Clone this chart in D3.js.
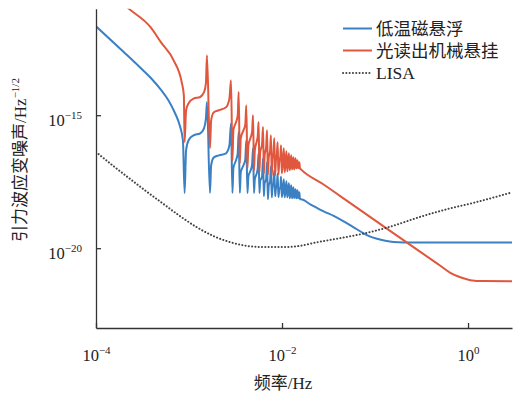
<!DOCTYPE html>
<html><head><meta charset="utf-8">
<script src="https://cdn.jsdelivr.net/npm/d3@7/dist/d3.min.js"></script>
<style>
html,body{margin:0;padding:0;background:#fff;}
svg{display:block;}
text{font-family:"Liberation Serif","Noto Sans CJK SC",serif;fill:#222;}
</style></head>
<body>
<svg id="chart" width="513" height="395"></svg>
<script>
// ---------- data ----------
const seriesNames = ["低温磁悬浮", "光读出机械悬挂", "LISA"];

const blueFreq = [1e-4,2e-4,3e-4,4e-4,5e-4,6e-4,7e-4,8e-4,8.6e-4,8.97e-4,9.3e-4,9.9e-4,1.12e-3,1.32e-3,1.45e-3,1.52e-3,1.56e-3,1.68e-3,1.73e-3,1.85e-3,2.1e-3,2.5e-3,2.72e-3,2.83e-3,2.93e-3,3.0e-3,3.2e-3,3.34e-3,3.42e-3,3.52e-3,3.6e-3,3.85e-3,4.03e-3,4.13e-3,4.25e-3,4.35e-3,4.6e-3,4.77e-3,4.88e-3,5.0e-3,5.1e-3,5.35e-3,5.48e-3,5.6e-3,5.72e-3,5.82e-3,6.1e-3,6.25e-3,6.38e-3,6.5e-3,6.75e-3,6.9e-3,7.05e-3,7.2e-3,7.45e-3,7.6e-3,7.76e-3,7.9e-3,8.1e-3,8.26e-3,8.43e-3,8.6e-3,8.8e-3,8.97e-3,9.15e-3,9.35e-3,9.6e-3,9.76e-3,9.95e-3,1.02e-2,1.046e-2,1.066e-2,1.09e-2,1.116e-2,1.138e-2,1.16e-2,1.186e-2,1.21e-2,1.23e-2,1.256e-2,1.28e-2,1.30e-2,1.326e-2,1.35e-2,1.37e-2,1.396e-2,1.42e-2,1.44e-2,1.466e-2,1.49e-2,1.51e-2,1.536e-2,1.56e-2,1.6e-2,2.01e-2,2.80e-2,3.59e-2,4.60e-2,5.89e-2,7.54e-2,8.89e-2,0.105,0.129,0.158,0.203,2.97];
const blueVal = [2.20e-12,2.32e-13,6.05e-14,2.24e-14,9.0e-15,3.63e-15,1.29e-15,3.83e-16,1.14e-16,1.19e-18,4.8e-17,1.14e-16,1.75e-16,2.09e-16,3.22e-16,7.6e-16,3.13e-15,1.19e-18,1.31e-17,2.6e-17,3.1e-17,3.7e-17,7.4e-17,4.83e-16,1.19e-18,1.01e-17,2.02e-17,3.7e-17,2.33e-16,1.19e-18,7.1e-18,1.31e-17,2.2e-17,1.14e-16,1.19e-18,5.0e-18,8.5e-18,1.43e-17,5.7e-17,1.19e-18,3.9e-18,6.5e-18,1.01e-17,3.7e-17,1.19e-18,3.27e-18,5.0e-18,2.4e-17,8.9e-19,2.75e-18,3.9e-18,1.69e-17,6.9e-19,2.32e-18,3.27e-18,1.2e-17,8.2e-19,1.95e-18,2.75e-18,8.5e-18,8.9e-19,1.79e-18,2.32e-18,6.5e-18,8.2e-19,1.64e-18,1.95e-18,5.0e-18,8.2e-19,1.50e-18,3.9e-18,8.2e-19,1.38e-18,3.27e-18,8.2e-19,1.26e-18,2.75e-18,7.5e-19,1.16e-18,2.32e-18,7.5e-19,1.06e-18,1.95e-18,7.5e-19,9.7e-19,1.64e-18,7.5e-19,8.9e-19,1.50e-18,7.5e-19,8.2e-19,1.26e-18,6.9e-19,6.9e-19,4.47e-19,2.44e-19,1.65e-19,1.03e-19,6.1e-20,3.63e-20,2.73e-20,2.25e-20,1.90e-20,1.71e-20,1.65e-20,1.64e-20];

const redFreq = [1e-4,2.24e-4,3.84e-4,5e-4,6.83e-4,8.41e-4,8.8e-4,8.97e-4,9.3e-4,9.9e-4,1.12e-3,1.32e-3,1.45e-3,1.52e-3,1.56e-3,1.68e-3,1.73e-3,1.85e-3,2.1e-3,2.5e-3,2.72e-3,2.83e-3,2.93e-3,3.0e-3,3.2e-3,3.34e-3,3.42e-3,3.52e-3,3.6e-3,3.85e-3,4.03e-3,4.13e-3,4.25e-3,4.35e-3,4.6e-3,4.77e-3,4.88e-3,5.0e-3,5.1e-3,5.35e-3,5.48e-3,5.6e-3,5.72e-3,5.82e-3,6.1e-3,6.25e-3,6.38e-3,6.5e-3,6.75e-3,6.9e-3,7.05e-3,7.2e-3,7.45e-3,7.6e-3,7.76e-3,7.9e-3,8.1e-3,8.26e-3,8.43e-3,8.6e-3,8.8e-3,8.97e-3,9.15e-3,9.35e-3,9.6e-3,9.76e-3,9.95e-3,1.02e-2,1.046e-2,1.066e-2,1.09e-2,1.116e-2,1.138e-2,1.16e-2,1.186e-2,1.21e-2,1.23e-2,1.256e-2,1.28e-2,1.30e-2,1.326e-2,1.35e-2,1.37e-2,1.396e-2,1.42e-2,1.44e-2,1.466e-2,1.49e-2,1.51e-2,1.536e-2,1.56e-2,1.6e-2,2.80e-2,5.42e-2,0.1237,0.307,0.504,0.646,0.826,1.06,1.47,2.97];
const redVal = [1.2e-10,1.02e-11,2.07e-12,5.5e-13,1.16e-13,1.54e-14,5.6e-15,9.8e-17,1.53e-15,2.8e-15,4.2e-15,4.83e-15,7.3e-15,1.58e-14,1.79e-13,5.7e-17,6.43e-16,1.29e-15,1.53e-15,1.98e-15,4.3e-15,2.05e-14,2.02e-17,2.70e-16,5.4e-16,9.9e-16,7.45e-15,1.56e-17,1.36e-16,2.70e-16,4.55e-16,2.36e-15,1.01e-17,7.4e-17,1.45e-16,2.44e-16,9.9e-16,8.5e-18,4.8e-17,1.04e-16,1.61e-16,5.55e-16,7.1e-18,4.0e-17,8.05e-17,3.6e-16,6.5e-18,3.1e-17,6.2e-17,2.70e-16,5.9e-18,2.6e-17,4.8e-17,1.75e-16,5.5e-18,2.2e-17,4.0e-17,1.36e-16,5.5e-18,2.02e-17,3.4e-17,9.6e-17,5.9e-18,1.85e-17,2.85e-17,7.4e-17,6.5e-18,1.69e-17,5.7e-17,7.1e-18,1.56e-17,4.4e-17,7.8e-18,1.43e-17,3.7e-17,8.5e-18,1.31e-17,3.1e-17,9.2e-18,1.31e-17,2.6e-17,9.2e-18,1.2e-17,2.4e-17,1.01e-17,1.2e-17,2.02e-17,1.01e-17,1.1e-17,1.69e-17,1.01e-17,9.2e-18,2.48e-18,4.95e-19,6.65e-20,7.3e-21,2.18e-21,1.19e-21,8.05e-22,6.3e-22,5.8e-22,5.7e-22];

const lisaFreq = [1.0e-4,1.52e-4,2.30e-4,3.47e-4,5.25e-4,7.92e-4,1.20e-3,1.81e-3,2.73e-3,4.13e-3,6.14e-3,1.03e-2,1.57e-2,2.38e-2,3.59e-2,5.42e-2,7.54e-2,0.1346,0.333,0.646,1.15,2.97];
const lisaVal = [4.14e-17,1.27e-17,4.14e-18,1.38e-18,4.75e-19,1.65e-19,6.3e-20,2.92e-20,1.71e-20,1.23e-20,1.11e-20,1.11e-20,1.23e-20,1.67e-20,2.16e-20,2.8e-20,3.54e-20,5.94e-20,1.65e-19,3.16e-19,5.1e-19,1.26e-18];

const xTicks = [1e-4, 1e-2, 1];
const xTickExp = ["\u22124", "\u22122", "0"];
const yTicks = [1e-20, 1e-15];
const yTickExp = ["\u221220", "\u221215"];

// ---------- chart ----------
const svg = d3.select("#chart");
const x = d3.scaleLog().domain([1e-4, 2.97]).range([96, 512]);
const y = d3.scaleLog().domain([1e-23, 1e-11]).range([328, 8.8]);

svg.append("defs").append("clipPath").attr("id","clip")
  .append("rect").attr("x",96).attr("y",8.8).attr("width",420).attr("height",319.2);

const line = d3.line().x(d=>x(d[0])).y(d=>y(d[1])).curve(d3.curveMonotoneX);
const zip = (a,b)=>a.map((f,i)=>[f,b[i]]);

const lisaColor = "#444", lisaDash = "0.1,3.2", lisaW = 2;

const g = svg.append("g").attr("clip-path","url(#clip)");
g.append("path").attr("d", line(zip(blueFreq, blueVal)))
  .attr("fill","none").attr("stroke","#3A80C3").attr("stroke-width",2);
g.append("path").attr("d", line(zip(redFreq, redVal)))
  .attr("fill","none").attr("stroke","#E0573D").attr("stroke-width",2);
g.append("path").attr("d", line(zip(lisaFreq, lisaVal)))
  .attr("fill","none").attr("stroke",lisaColor).attr("stroke-width",lisaW)
  .attr("stroke-linecap","round").attr("stroke-dasharray",lisaDash);

// axes
const xAxis = d3.axisBottom(x).tickValues(xTicks).tickSizeInner(-5).tickSizeOuter(0).tickPadding(14).tickFormat("");
const gx = svg.append("g").attr("transform","translate(0,328)").call(xAxis);
const yAxis = d3.axisLeft(y).tickValues(yTicks).tickSizeInner(-5).tickSizeOuter(0).tickPadding(14).tickFormat("");
const gy = svg.append("g").attr("transform","translate(96,0)").call(yAxis);
[gx, gy].forEach(a=>{
  a.select(".domain").attr("stroke","#333").attr("stroke-width",1.3);
  a.selectAll(".tick line").attr("stroke","#333").attr("stroke-width",1.3);
});

gx.selectAll(".tick text").each(function(d,i){
  const t = d3.select(this).attr("y",33).attr("dy",0).attr("font-size",16.5)
    .attr("text-anchor","middle").attr("fill","#222");
  t.append("tspan").text("10");
  t.append("tspan").attr("font-size",11).attr("dy",-7).text(xTickExp[i]);
});
gy.selectAll(".tick text").each(function(d,i){
  const t = d3.select(this).attr("x",-14).attr("dy",0).attr("y",10).attr("font-size",16.5)
    .attr("text-anchor","end").attr("fill","#222");
  t.append("tspan").text("10");
  t.append("tspan").attr("font-size",11).attr("dy",-7).text(yTickExp[i]);
});

// axis titles
svg.append("text").attr("x",283).attr("y",389).attr("text-anchor","middle")
  .attr("font-size",17).text("频率/Hz");
const yt = svg.append("text").attr("transform","translate(26,160) rotate(-90)")
  .attr("text-anchor","middle").attr("font-size",17);
yt.append("tspan").text("引力波应变噪声/Hz");
yt.append("tspan").attr("font-size",11).attr("dy",-7).text("\u22121/2");

// legend
const legY = [28.5, 50.5, 73];
const legStyle = [
  {stroke:"#3A80C3", w:2, dash:null},
  {stroke:"#E0573D", w:2, dash:null},
  {stroke:lisaColor, w:lisaW, dash:lisaDash}
];
seriesNames.forEach((n,i)=>{
  const l = svg.append("line").attr("x1",343).attr("x2",372).attr("y1",legY[i]).attr("y2",legY[i])
    .attr("stroke",legStyle[i].stroke).attr("stroke-width",legStyle[i].w);
  if (legStyle[i].dash) l.attr("stroke-dasharray",legStyle[i].dash).attr("stroke-linecap","round");
  svg.append("text").attr("x",376).attr("y",legY[i]+6).attr("font-size",17.5).text(n);
});
</script>
</body></html>
